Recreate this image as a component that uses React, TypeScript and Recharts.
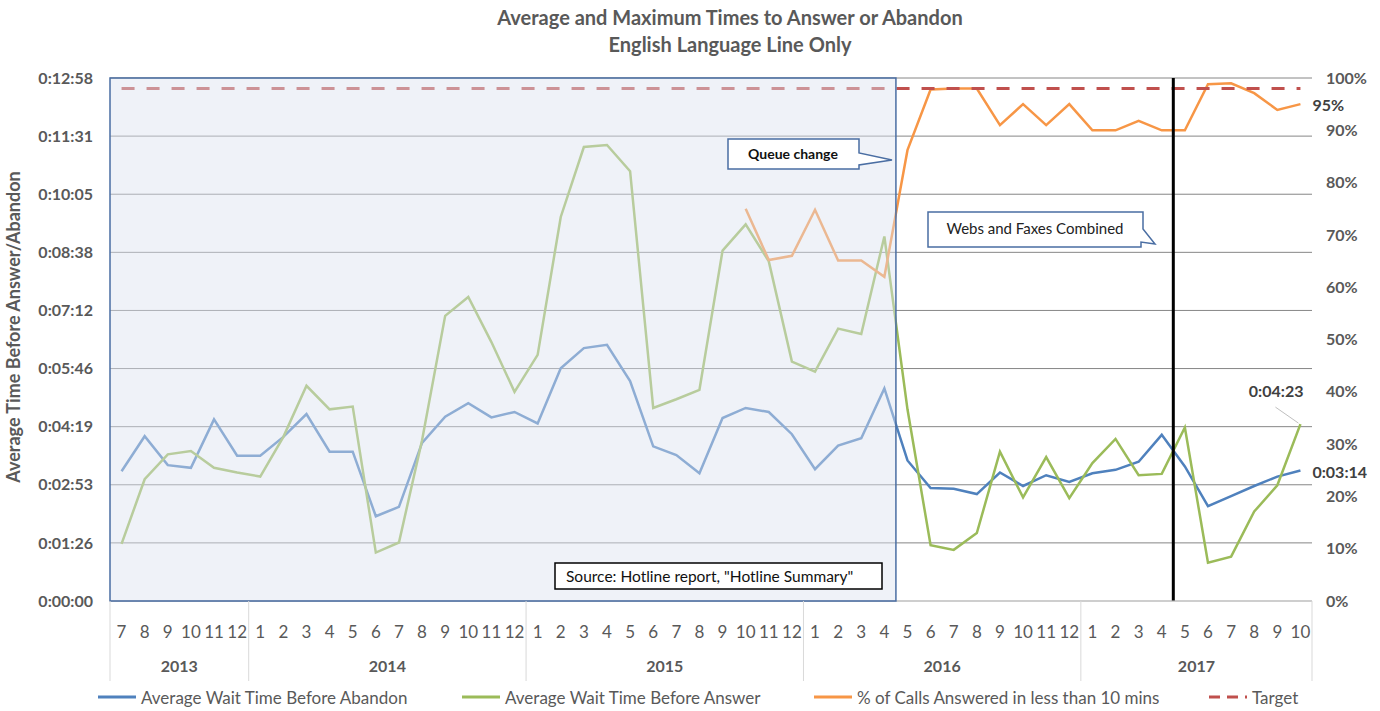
import React from "react"
import {
    LineChart,
    Line,
    XAxis,
    YAxis,
    CartesianGrid,
    ReferenceArea,
    ReferenceLine,
} from "recharts"

// categories: year-month
const periods = [
    "2013-7", "2013-8", "2013-9", "2013-10", "2013-11", "2013-12",
    "2014-1", "2014-2", "2014-3", "2014-4", "2014-5", "2014-6", "2014-7", "2014-8", "2014-9", "2014-10", "2014-11", "2014-12",
    "2015-1", "2015-2", "2015-3", "2015-4", "2015-5", "2015-6", "2015-7", "2015-8", "2015-9", "2015-10", "2015-11", "2015-12",
    "2016-1", "2016-2", "2016-3", "2016-4", "2016-5", "2016-6", "2016-7", "2016-8", "2016-9", "2016-10", "2016-11", "2016-12",
    "2017-1", "2017-2", "2017-3", "2017-4", "2017-5", "2017-6", "2017-7", "2017-8", "2017-9", "2017-10",
]

// seconds
const abandonSec = [
    193, 245, 202, 198, 270, 216,
    216, 244, 278, 222, 222, 126, 140, 235, 274, 294, 273, 281,
    264, 346, 376, 381, 327, 230, 217, 190, 272, 287, 281, 248,
    196, 231, 242, 316, 209, 168, 167, 159, 191, 171, 187, 177,
    190, 195, 207, 247, 200, 141, 156, 171, 185, 194,
]

const answerSec = [
    85, 181, 218, 223, 198, 191,
    185, 244, 320, 285, 289, 72, 87, 239, 424, 452, 385, 311,
    366, 571, 675, 678, 639, 287, 300, 314, 521, 560, 505, 356,
    341, 405, 397, 542, 285, 83, 76, 101, 222, 154, 214, 153,
    205, 241, 187, 189, 258, 57, 66, 133, 172, 263,
]

// share of calls answered in under 10 minutes (reported from 2015-10)
const pctUnder10 = [
    null, null, null, null, null, null,
    null, null, null, null, null, null, null, null, null, null, null, null,
    null, null, null, null, null, null, null, null, null, 0.75, 0.652, 0.66,
    0.748, 0.651, 0.651, 0.62, 0.862, 0.978, 0.98, 0.98, 0.91, 0.95, 0.91, 0.95,
    0.9, 0.9, 0.918, 0.9, 0.9, 0.988, 0.99, 0.971, 0.939, 0.95,
]

const TARGET = 0.98

const leftTicks = [0, 86.4, 172.8, 259.2, 345.6, 432, 518.4, 604.8, 691.2, 777.6]
const rightTicks = [0, 0.1, 0.2, 0.3, 0.4, 0.5, 0.6, 0.7, 0.8, 0.9, 1]

const data = periods.map((p, i) => ({
    period: p,
    abandon: abandonSec[i],
    answer: answerSec[i],
    pct: pctUnder10[i],
    target: TARGET,
}))

const FONT = "Lato, 'Open Sans', sans-serif"
const GREY = "#595959"
const BLUE = "#4F81BD"
const GREEN = "#9BBB59"
const ORANGE = "#F79646"
const RED = "#C0504D"

const W = 1380
const H = 711
const LEFT_W = 110
const RIGHT_W = 68
const TOP = 78
const X_H = 110
const BAND = (W - LEFT_W - RIGHT_W) / periods.length
const LAST = periods.length - 1

const fmtTime = (s: number) => {
    const t = Math.round(s)
    const m = Math.floor(t / 60)
    const sec = t % 60
    return `0:${String(m).padStart(2, "0")}:${String(sec).padStart(2, "0")}`
}
const fmtPct = (v: number) => `${Math.round(v * 100)}%`

const MonthYearTick = (props: any) => {
    const { x, y, payload } = props
    const value: string = payload.value
    const [year, month] = value.split("-")
    const idx = periods.indexOf(value)
    const sameYear = periods.filter((p) => p.startsWith(year + "-"))
    const first = periods.indexOf(sameYear[0]) === idx
    const isLast = idx === LAST
    return (
        <g>
            <text x={x} y={y + 37} textAnchor="middle" fontSize={17} fill={GREY} fontFamily={FONT}>
                {month}
            </text>
            {first && (
                <>
                    <line x1={x - BAND / 2} x2={x - BAND / 2} y1={y} y2={y + 80} stroke="#d9d9d9" />
                    <text
                        x={x + ((sameYear.length - 1) / 2) * BAND}
                        y={y + 71}
                        textAnchor="middle"
                        fontSize={16}
                        fontWeight={700}
                        fill={GREY}
                        fontFamily={FONT}
                    >
                        {year}
                    </text>
                </>
            )}
            {isLast && <line x1={x + BAND / 2} x2={x + BAND / 2} y1={y} y2={y + 80} stroke="#d9d9d9" />}
        </g>
    )
}

const lastLabel = (kind: "abandon" | "answer" | "pct") => (props: any) => {
    const { x, y, index, value } = props
    if (index !== LAST || value == null) return null
    if (kind === "answer") {
        return (
            <g>
                <line x1={x - 25} y1={y - 17} x2={x - 2} y2={y - 1} stroke="#bfbfbf" />
                <text x={x + 3} y={y - 27} textAnchor="end" fontSize={16} fontWeight={700} fill="#404040" fontFamily={FONT}>
                    {fmtTime(value)}
                </text>
            </g>
        )
    }
    return (
        <text x={x + 12} y={y + 7} textAnchor="start" fontSize={16} fontWeight={700} fill="#404040" fontFamily={FONT}>
            {kind === "pct" ? fmtPct(value) : fmtTime(value)}
        </text>
    )
}

const legendItems = [
    { name: "Average Wait Time Before Abandon", color: BLUE, dashed: false, left: 97 },
    { name: "Average Wait Time Before Answer", color: GREEN, dashed: false, left: 461 },
    { name: "% of Calls Answered in less than 10 mins", color: ORANGE, dashed: false, left: 813 },
    { name: "Target", color: RED, dashed: true, left: 1208 },
]

export default function App() {
    return (
        <div style={{ position: "absolute", left: 0, top: 0, width: W, height: H, background: "#fff", fontFamily: FONT }}>
            <LineChart width={W} height={H} data={data} margin={{ top: TOP, right: 0, bottom: 0, left: 0 }}>
                <CartesianGrid yAxisId="left" vertical={false} stroke="#868686" />
                <XAxis
                    dataKey="period"
                    scale="band"
                    height={X_H}
                    interval={0}
                    tickLine={false}
                    tickSize={0}
                    tickMargin={0}
                    stroke="#d9d9d9"
                    tick={<MonthYearTick />}
                />
                <YAxis
                    yAxisId="left"
                    width={LEFT_W}
                    domain={[0, 777.6]}
                    ticks={leftTicks}
                    tickFormatter={fmtTime}
                    axisLine={false}
                    tickLine={false}
                    tickSize={0}
                    tickMargin={17}
                    tick={{ fontSize: 16, fontWeight: 700, fill: GREY, fontFamily: FONT }}
                />
                <YAxis
                    yAxisId="right"
                    orientation="right"
                    width={RIGHT_W}
                    domain={[0, 1]}
                    ticks={rightTicks}
                    tickFormatter={fmtPct}
                    axisLine={false}
                    tickLine={false}
                    tickSize={0}
                    tickMargin={14}
                    tick={{ fontSize: 16, fontWeight: 700, fill: GREY, fontFamily: FONT, textAnchor: "start" }}
                />
                <Line
                    yAxisId="left"
                    type="linear"
                    dataKey="abandon"
                    stroke={BLUE}
                    strokeWidth={2.5}
                    dot={false}
                    activeDot={false}
                    isAnimationActive={false}
                    label={lastLabel("abandon")}
                />
                <Line
                    yAxisId="left"
                    type="linear"
                    dataKey="answer"
                    stroke={GREEN}
                    strokeWidth={2.5}
                    dot={false}
                    activeDot={false}
                    isAnimationActive={false}
                    label={lastLabel("answer")}
                />
                <Line
                    yAxisId="right"
                    type="linear"
                    dataKey="pct"
                    stroke={ORANGE}
                    strokeWidth={2.5}
                    dot={false}
                    activeDot={false}
                    isAnimationActive={false}
                    label={lastLabel("pct")}
                />
                <Line
                    yAxisId="right"
                    type="linear"
                    dataKey="target"
                    stroke={RED}
                    strokeWidth={3}
                    strokeDasharray="13 12"
                    dot={false}
                    activeDot={false}
                    isAnimationActive={false}
                />
                <ReferenceLine yAxisId="left" x="2017-5" position="start" stroke="#000" strokeWidth={3} />
                <ReferenceArea
                    yAxisId="left"
                    x1="2013-7"
                    x2="2016-4"
                    fill="#dbe3f0"
                    fillOpacity={0.45}
                    stroke="#4a6ea3"
                    strokeWidth={1.5}
                    zIndex={1000}
                />
            </LineChart>

            <svg
                width={W}
                height={H}
                style={{ position: "absolute", left: 0, top: 0, pointerEvents: "none" }}
                fontFamily={FONT}
            >
                <text x={730} y={25} textAnchor="middle" fontSize={20} fontWeight={700} fill={GREY}>
                    Average and Maximum Times to Answer or Abandon
                </text>
                <text x={730} y={52} textAnchor="middle" fontSize={20} fontWeight={700} fill={GREY}>
                    English Language Line Only
                </text>
                <text
                    transform="translate(20 327) rotate(-90)"
                    textAnchor="middle"
                    fontSize={18}
                    fontWeight={700}
                    fill={GREY}
                >
                    Average Time Before Answer/Abandon
                </text>

                <path
                    d="M728,139 H859 V153 L892,160 L859,165 V169 H728 Z"
                    fill="#fff"
                    stroke="#4a6ea3"
                    strokeWidth={1.5}
                />
                <text x={793} y={159} textAnchor="middle" fontSize={14} fontWeight={700} fill="#111">
                    Queue change
                </text>

                <path
                    d="M928,212 H1143 V229 L1155,244 L1141,242 V247 H928 Z"
                    fill="#fff"
                    stroke="#4a6ea3"
                    strokeWidth={1.5}
                />
                <text x={1035} y={234} textAnchor="middle" fontSize={15} fill="#222">
                    Webs and Faxes Combined
                </text>

                <rect x={555} y={563} width={327} height={26} fill="#fff" stroke="#000" strokeWidth={1.5} />
                <text x={566} y={582} fontSize={15.5} fill="#111">
                    Source: Hotline report, "Hotline Summary"
                </text>
            </svg>

            {legendItems.map((it) => (
                <div
                    key={it.name}
                    style={{
                        position: "absolute",
                        left: it.left,
                        top: 686,
                        height: 22,
                        display: "flex",
                        alignItems: "center",
                        fontSize: 17,
                        color: GREY,
                        whiteSpace: "nowrap",
                    }}
                >
                    <svg width={40} height={10} style={{ marginRight: 4 }}>
                        <line
                            x1={1}
                            x2={39}
                            y1={5}
                            y2={5}
                            stroke={it.color}
                            strokeWidth={3}
                            strokeDasharray={it.dashed ? "11 7" : undefined}
                        />
                    </svg>
                    {it.name}
                </div>
            ))}
        </div>
    )
}
